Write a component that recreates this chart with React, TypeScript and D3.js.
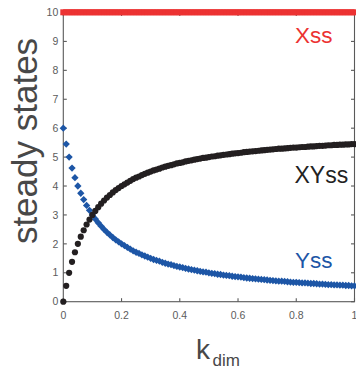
import * as d3 from "d3";

// kdim sample points
const kdim = [
  0, 0.01, 0.02, 0.03, 0.04, 0.05, 0.06, 0.07, 0.08, 0.09,
  0.1, 0.11, 0.12, 0.13, 0.14, 0.15, 0.16, 0.17, 0.18, 0.19,
  0.2, 0.21, 0.22, 0.23, 0.24, 0.25, 0.26, 0.27, 0.28, 0.29,
  0.3, 0.31, 0.32, 0.33, 0.34, 0.35, 0.36, 0.37, 0.38, 0.39,
  0.4, 0.41, 0.42, 0.43, 0.44, 0.45, 0.46, 0.47, 0.48, 0.49,
  0.5, 0.51, 0.52, 0.53, 0.54, 0.55, 0.56, 0.57, 0.58, 0.59,
  0.6, 0.61, 0.62, 0.63, 0.64, 0.65, 0.66, 0.67, 0.68, 0.69,
  0.7, 0.71, 0.72, 0.73, 0.74, 0.75, 0.76, 0.77, 0.78, 0.79,
  0.8, 0.81, 0.82, 0.83, 0.84, 0.85, 0.86, 0.87, 0.88, 0.89,
  0.9, 0.91, 0.92, 0.93, 0.94, 0.95, 0.96, 0.97, 0.98, 0.99, 1,
];

const xss = [
  10, 10, 10, 10, 10, 10, 10, 10, 10, 10, 10, 10, 10, 10, 10, 10, 10, 10, 10, 10,
  10, 10, 10, 10, 10, 10, 10, 10, 10, 10, 10, 10, 10, 10, 10, 10, 10, 10, 10, 10,
  10, 10, 10, 10, 10, 10, 10, 10, 10, 10, 10, 10, 10, 10, 10, 10, 10, 10, 10, 10,
  10, 10, 10, 10, 10, 10, 10, 10, 10, 10, 10, 10, 10, 10, 10, 10, 10, 10, 10, 10,
  10, 10, 10, 10, 10, 10, 10, 10, 10, 10, 10, 10, 10, 10, 10, 10, 10, 10, 10, 10, 10,
];

const yss = [
  6.0, 5.45, 5.0, 4.62, 4.29, 4.0, 3.75, 3.53, 3.33, 3.16,
  3.0, 2.86, 2.73, 2.61, 2.5, 2.4, 2.31, 2.22, 2.14, 2.07,
  2.0, 1.94, 1.88, 1.82, 1.76, 1.71, 1.67, 1.62, 1.58, 1.54,
  1.5, 1.46, 1.43, 1.4, 1.36, 1.33, 1.3, 1.28, 1.25, 1.22,
  1.2, 1.18, 1.15, 1.13, 1.11, 1.09, 1.07, 1.05, 1.03, 1.02,
  1.0, 0.98, 0.97, 0.95, 0.94, 0.92, 0.91, 0.9, 0.88, 0.87,
  0.86, 0.85, 0.83, 0.82, 0.81, 0.8, 0.79, 0.78, 0.77, 0.76,
  0.75, 0.74, 0.73, 0.72, 0.71, 0.71, 0.7, 0.69, 0.68, 0.67,
  0.67, 0.66, 0.65, 0.65, 0.64, 0.63, 0.63, 0.62, 0.61, 0.61,
  0.6, 0.59, 0.59, 0.58, 0.58, 0.57, 0.57, 0.56, 0.56, 0.55, 0.55,
];

const xyss = [
  0.0, 0.55, 1.0, 1.38, 1.71, 2.0, 2.25, 2.47, 2.67, 2.84,
  3.0, 3.14, 3.27, 3.39, 3.5, 3.6, 3.69, 3.78, 3.86, 3.93,
  4.0, 4.06, 4.12, 4.18, 4.24, 4.29, 4.33, 4.38, 4.42, 4.46,
  4.5, 4.54, 4.57, 4.6, 4.64, 4.67, 4.7, 4.72, 4.75, 4.78,
  4.8, 4.82, 4.85, 4.87, 4.89, 4.91, 4.93, 4.95, 4.97, 4.98,
  5.0, 5.02, 5.03, 5.05, 5.06, 5.08, 5.09, 5.1, 5.12, 5.13,
  5.14, 5.15, 5.17, 5.18, 5.19, 5.2, 5.21, 5.22, 5.23, 5.24,
  5.25, 5.26, 5.27, 5.28, 5.29, 5.29, 5.3, 5.31, 5.32, 5.33,
  5.33, 5.34, 5.35, 5.35, 5.36, 5.37, 5.37, 5.38, 5.39, 5.39,
  5.4, 5.41, 5.41, 5.42, 5.42, 5.43, 5.43, 5.44, 5.44, 5.45, 5.45,
];

const xTicks = [0, 0.2, 0.4, 0.6, 0.8, 1];
const xTickLabels = ["0", "0.2", "0.4", "0.6", "0.8", "1"];
const yTicks = [0, 1, 2, 3, 4, 5, 6, 7, 8, 9, 10];

const W = 356;
const H = 369;
const left = 63.3;
const right = 354.5;
const top = 12.5;
const bottom = 301.7;

const RED = "#ec3232";
const BLUE = "#1d56a6";
const BLACK = "#231f20";
const AXIS = "#5a5a5a";
const font = "'Liberation Sans', Arial, sans-serif";

export default function App() {
  const x = d3.scaleLinear().domain([0, 1]).range([left, right]);
  const y = d3.scaleLinear().domain([0, 10]).range([bottom, top]);
  const diamond = d3.symbol().type(d3.symbolDiamond2).size(34)();
  const tick = 3.5;

  return (
    <svg
      width={W}
      height={H}
      style={{ position: "absolute", left: 0, top: 0, display: "block" }}
      fontFamily={font}
    >
      <rect width={W} height={H} fill="#fff" />

      {/* axes box */}
      <g stroke={AXIS} strokeWidth={1.1} fill="none">
        <rect x={left} y={top} width={right - left} height={bottom - top} />
        {xTicks.map((t) => (
          <g key={"xt" + t}>
            <line x1={x(t)} x2={x(t)} y1={bottom} y2={bottom - tick} />
            <line x1={x(t)} x2={x(t)} y1={top} y2={top + tick} />
          </g>
        ))}
        {yTicks.map((t) => (
          <g key={"yt" + t}>
            <line x1={left} x2={left + tick} y1={y(t)} y2={y(t)} />
            <line x1={right} x2={right - tick} y1={y(t)} y2={y(t)} />
          </g>
        ))}
      </g>

      <g fill="#5c5c5c" fontSize={10.5}>
        {xTicks.map((t, i) => (
          <text key={"xl" + t} x={x(t)} y={bottom + 17} textAnchor="middle">
            {xTickLabels[i]}
          </text>
        ))}
        {yTicks.map((t) => (
          <text key={"yl" + t} x={left - 5} y={y(t)} dy="0.35em" textAnchor="end">
            {t}
          </text>
        ))}
      </g>

      {/* Xss */}
      <g fill={RED}>
        {kdim.map((k, i) => (
          <rect key={"x" + i} x={x(k) - 3} y={y(xss[i]) - 3.2} width={6} height={6} />
        ))}
      </g>

      {/* Yss */}
      <g fill={BLUE}>
        {kdim.map((k, i) => (
          <path key={"y" + i} d={diamond} transform={`translate(${x(k)},${y(yss[i])})`} />
        ))}
      </g>

      {/* XYss */}
      <g fill={BLACK}>
        {kdim.map((k, i) => (
          <circle key={"xy" + i} cx={x(k)} cy={y(xyss[i])} r={3.1} />
        ))}
      </g>

      {/* series labels */}
      <text x={295} y={43} fontSize={22.5} fill={RED}>Xss</text>
      <text x={294.5} y={183} fontSize={23} fill="#222">XYss</text>
      <text x={295} y={268} fontSize={22.5} fill={BLUE}>Yss</text>

      {/* axis titles */}
      <text
        transform="translate(37,141) rotate(-90)"
        textAnchor="middle"
        fontSize={35}
        fill="#484848"
      >
        steady states
      </text>
      <text x={196} y={359} fontSize={28} fill="#484848">k</text>
      <text x={212.5} y={366} fontSize={17} fill="#484848">dim</text>
    </svg>
  );
}
